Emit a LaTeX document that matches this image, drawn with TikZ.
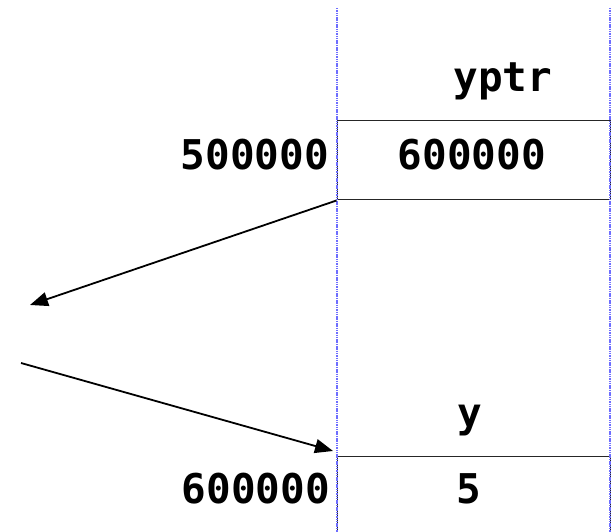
\documentclass[tikz,border=0pt]{standalone}
\usepackage{fontspec}
\setmonofont{DejaVu Sans Mono}
\usetikzlibrary{arrows.meta,positioning}
\newcommand{\memfont}{\ttfamily\bfseries\fontsize{41}{49}\selectfont}
\definecolor{guideblue}{RGB}{110,110,255}

\begin{document}
\begin{tikzpicture}[x=1pt, y=-1pt,
    cell/.style={draw=black!85, line width=1pt, minimum width=273pt, minimum height=79pt, inner sep=0pt},
    addr/.style={anchor=east, inner sep=0pt, font=\memfont},
    val/.style={inner sep=0pt, font=\memfont},
    varname/.style={anchor=base, inner sep=0pt, font=\memfont},
    guide/.style={draw=guideblue, dash pattern=on 1.5pt off 0.8pt, line width=1.2pt},
    arr/.style={-{Triangle[length=18pt, width=14pt]}, line width=1.8pt}
]
\clip (0,0) rectangle (614,532);
\useasboundingbox (0,0) rectangle (614,532);

\node[cell] (yptrbox) at (473.5,160.5) {};
\node[cell] (ybox)    at (473.5,495.5) {};

\coordinate (gtl) at (337,8);
\coordinate (gbl) at (337,532);
\coordinate (gtr) at (610,8);
\coordinate (gbr) at (610,532);
\draw[guide] (gtl) -- (gbl);
\draw[guide] (gtr) -- (gbr);

\node[varname] (yptrname) at (503,92)  {yptr};
\node[val]     (yptrval)  at (472,155) {600000};
\node[addr]    (yptraddr) at (329,155) {500000};

\node[varname] (yname) at (470,427)   {y};
\node[val]     (yval)  at (469,488.5) {5};
\node[addr]    (yaddr) at (330,488.5) {600000};

\coordinate (outend) at (30,305);
\coordinate (instart) at (21,363);
\coordinate (inend) at (333,451);
\draw[arr] (yptrbox.south west) -- (outend);
\draw[arr] (instart) -- (inend);
\end{tikzpicture}
\end{document}
